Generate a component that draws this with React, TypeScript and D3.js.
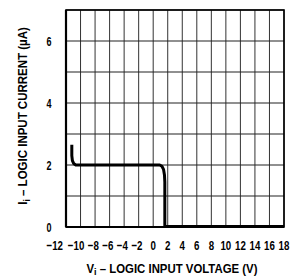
import React from "react";
import * as d3 from "d3";

const xTicks = [-12, -10, -8, -6, -4, -2, 0, 2, 4, 6, 8, 10, 12, 14, 16, 18];
const yGrid = [0, 1, 2, 3, 4, 5, 6, 7];
const yLabels = [0, 2, 4, 6];
const curveV = [-11.2, -11.2, -11.12, -10.95, -10.65, 0.9, 1.2, 1.42, 1.55, 1.6, 1.6, 18];
const curveI = [2.65, 2.3, 2.14, 2.05, 2.0, 2.0, 1.96, 1.86, 1.68, 1.45, 0.02, 0.02];

const W = 291, H = 277;
const M = { left: 66, right: 284, top: 10, bottom: 227 };
const FONT = "'Liberation Sans', Arial, sans-serif";

function CText({ x, y, children, size = 12, anchor = "middle", rotate = 0, sx = 0.8 }: any) {
  return (
    <g transform={`translate(${x},${y}) rotate(${rotate}) scale(${sx},1)`}>
      <text x={0} y={0} textAnchor={anchor} fontFamily={FONT} fontWeight="bold" fontSize={size}>
        {children}
      </text>
    </g>
  );
}

export default function App() {
  const x = d3.scaleLinear().domain([-12, 18]).range([M.left, M.right]);
  const y = d3.scaleLinear().domain([0, 7]).range([M.bottom, M.top]);
  const pts: [number, number][] = curveV.map((v, i) => [v, curveI[i]]);
  const line = d3
    .line<[number, number]>()
    .x((d) => x(d[0]))
    .y((d) => y(d[1]))
    .curve(d3.curveLinear);
  return (
    <svg width={W} height={H} style={{ position: "absolute", left: 0, top: 0, background: "#fff" }}>
      {xTicks.map((t) => (
        <line key={"gx" + t} x1={x(t)} x2={x(t)} y1={M.top} y2={M.bottom} stroke="#333" strokeWidth={1} />
      ))}
      {yGrid.map((t) => (
        <line key={"gy" + t} x1={M.left} x2={M.right} y1={y(t)} y2={y(t)} stroke="#222" strokeWidth={1.2} />
      ))}
      <rect x={M.left} y={M.top} width={M.right - M.left} height={M.bottom - M.top} fill="none" stroke="#000" strokeWidth={1.6} />
      <line x1={M.left} x2={M.right} y1={M.bottom} y2={M.bottom} stroke="#000" strokeWidth={2.2} />
      <line x1={M.left} x2={M.left} y1={M.top} y2={M.bottom} stroke="#000" strokeWidth={2.2} />
      <path d={line(pts) || ""} fill="none" stroke="#000" strokeWidth={3} strokeLinejoin="round" />
      {yLabels.map((t) => (
        <CText key={"yl" + t} x={49} y={y(t) + 4.5} size={12.5} sx={0.72}>
          {t}
        </CText>
      ))}
      {xTicks.map((t, i) =>
        t < 0 ? (
          <CText key={"xl" + t} x={i === 0 ? x(t) - 3 : x(t) + 3.8} y={250} size={13.5} sx={0.72} anchor="end">
            {"\u2212" + Math.abs(t)}
          </CText>
        ) : (
          <CText key={"xl" + t} x={x(t)} y={250} size={13.5} sx={0.72}>
            {String(t)}
          </CText>
        )
      )}
      <CText x={172} y={273} size={12} sx={0.95}>
        V<tspan fontSize={9.5} dy={2}>i</tspan>
        <tspan dy={-2}> – LOGIC INPUT VOLTAGE (V)</tspan>
      </CText>
      <CText x={27} y={116} size={12.5} sx={0.92} rotate={-90}>
        I<tspan fontSize={9.5} dy={2.5}>i</tspan>
        <tspan dy={-2.5}> – LOGIC INPUT CURRENT (µA)</tspan>
      </CText>
    </svg>
  );
}
